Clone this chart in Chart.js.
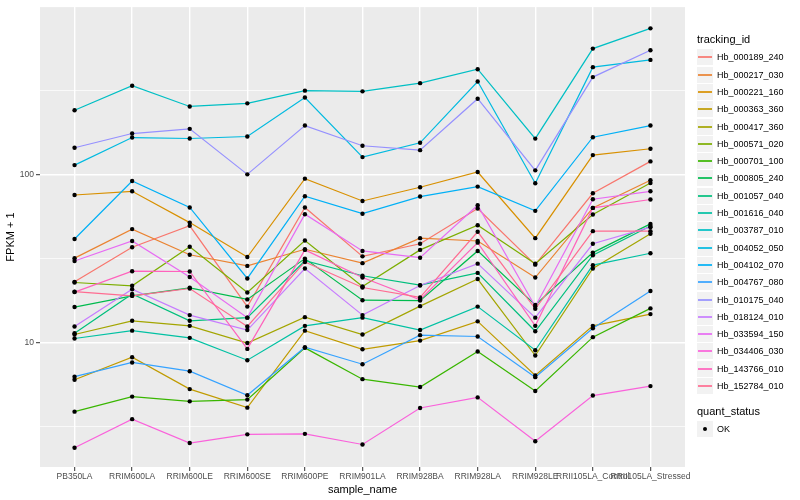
<!DOCTYPE html>
<html>
<head>
<meta charset="utf-8">
<script src="https://cdn.jsdelivr.net/npm/chart.js@4.4.1/dist/chart.umd.min.js"></script>
<style>
  body { margin: 0; background: #fff; font-family: "Liberation Sans", Arial, sans-serif; }
  #wrap { position: relative; width: 800px; height: 500px; }
  #legend div { position: absolute; white-space: nowrap; }
  .ltitle { font-size: 11px; color: #000; }
  .lkey { width: 16px; height: 16px; background: #F2F2F2; }
  .lline { height: 2px; }
  .ltext { font-size: 9px; color: #000; }
</style>
</head>
<body>
<div id="wrap">
  <canvas id="chart" width="800" height="500"></canvas>
  <div id="legend"></div>
</div>
<script>
const samples = ['PB350LA', 'RRIM600LA', 'RRIM600LE', 'RRIM600SE', 'RRIM600PE', 'RRIM901LA',
    'RRIM928BA', 'RRIM928LA', 'RRIM928LE', 'RRII105LA_Control', 'RRII105LA_Stressed'];

const trackingIds = ['Hb_000189_240', 'Hb_000217_030', 'Hb_000221_160', 'Hb_000363_360', 'Hb_000417_360',
    'Hb_000571_020', 'Hb_000701_100', 'Hb_000805_240', 'Hb_001057_040', 'Hb_001616_040',
    'Hb_003787_010', 'Hb_004052_050', 'Hb_004102_070', 'Hb_004767_080', 'Hb_010175_040',
    'Hb_018124_010', 'Hb_033594_150', 'Hb_034406_030', 'Hb_143766_010', 'Hb_152784_010'];

const hueColors = ['#F8766D', '#EA8331', '#D89000', '#C09B00', '#A3A500', '#7CAE00', '#39B600', '#00BB4E',
    '#00BF7D', '#00C1A3', '#00BFC4', '#00BAE0', '#00B0F6', '#35A2FF', '#9590FF', '#C77CFF',
    '#E76BF3', '#FA62DB', '#FF62BC', '#FF6C91'];

// FPKM + 1, one value per sample
const hb_000189_240 = [23.0, 36.9, 49.5, 16.4, 63.6, 32.6, 38.7, 62.7, 29.1, 77.2, 119.4];
const hb_000217_030 = [31.8, 47.3, 33.3, 28.6, 35.9, 29.7, 41.8, 40.2, 24.4, 63.2, 92.2];
const hb_000221_160 = [75.4, 79.3, 51.7, 32.3, 94.3, 69.5, 83.8, 103.2, 41.8, 130.1, 141.9];
const hb_000363_360 = [6.03, 8.21, 5.31, 4.12, 11.8, 9.15, 10.3, 13.4, 6.40, 12.6, 14.8];
const hb_000417_360 = [11.2, 13.5, 12.6, 9.96, 14.2, 11.2, 16.5, 23.9, 8.40, 27.6, 44.4];
const hb_000571_020 = [22.8, 21.8, 37.2, 19.9, 40.5, 21.6, 35.6, 49.9, 29.5, 57.8, 88.8];
const hb_000701_100 = [3.90, 4.79, 4.49, 4.60, 9.33, 6.08, 5.46, 8.87, 5.17, 10.8, 16.0];
const hb_000805_240 = [16.3, 19.0, 21.2, 18.1, 31.6, 17.9, 17.8, 35.1, 16.8, 34.3, 50.8];
const hb_001057_040 = [11.4, 19.5, 13.5, 14.1, 30.7, 25.0, 22.0, 26.0, 11.7, 33.1, 49.3];
const hb_001616_040 = [10.6, 11.8, 10.7, 7.88, 12.6, 14.1, 11.9, 16.4, 9.03, 28.9, 34.0];
const hb_003787_010 = [240, 336, 253, 264, 314, 311, 348, 421, 163, 558, 736];
const hb_004052_050 = [113.5, 165.4, 163.2, 167.7, 286, 126.6, 153.9, 356, 88.5, 433, 478];
const hb_004102_070 = [41.3, 91.3, 63.6, 24.1, 74.1, 58.4, 73.8, 84.6, 60.7, 166.1, 194.8];
const hb_004767_080 = [6.29, 7.64, 6.78, 4.88, 9.41, 7.46, 11.1, 10.9, 6.25, 12.2, 20.3];
const hb_010175_040 = [143.8, 174.7, 186.3, 100.0, 194.8, 147.8, 139.2, 281.3, 105.6, 378, 546];
const hb_018124_010 = [12.5, 20.8, 14.6, 11.9, 27.6, 14.6, 21.9, 29.5, 14.1, 38.7, 48.6];
const hb_033594_150 = [30.6, 40.2, 24.6, 14.1, 58.0, 35.1, 32.0, 65.6, 16.4, 71.2, 79.3];
const hb_034406_030 = [2.38, 3.52, 2.54, 2.86, 2.88, 2.49, 4.10, 4.74, 2.60, 4.86, 5.53];
const hb_143766_010 = [20.0, 26.6, 26.5, 9.20, 35.6, 24.4, 18.0, 39.3, 12.6, 63.2, 70.9];
const hb_152784_010 = [20.1, 19.0, 21.0, 12.5, 30.2, 21.3, 18.6, 45.6, 15.9, 46.0, 46.0];

const yMajorTicks = [10, 100];
const yMinorTicks = [3.162, 31.62, 316.2];
const quantStatus = ['OK'];

const seriesValues = [hb_000189_240, hb_000217_030, hb_000221_160, hb_000363_360, hb_000417_360,
    hb_000571_020, hb_000701_100, hb_000805_240, hb_001057_040, hb_001616_040,
    hb_003787_010, hb_004052_050, hb_004102_070, hb_004767_080, hb_010175_040,
    hb_018124_010, hb_033594_150, hb_034406_030, hb_143766_010, hb_152784_010];

const fontFamily = '"Liberation Sans", Arial, sans-serif';

const lineSets = seriesValues.map(function (vals, i) {
    return {
        label: trackingIds[i],
        data: vals.map(function (v, j) { return { x: j, y: v }; }),
        borderColor: hueColors[i],
        borderWidth: 1.2,
        pointRadius: 0,
        fill: false,
        tension: 0,
        order: trackingIds.length - i
    };
});

const pointSet = {
    label: quantStatus[0],
    data: seriesValues.flatMap(function (vals) {
        return vals.map(function (v, j) { return { x: j, y: v }; });
    }),
    showLine: false,
    pointRadius: 2.2,
    pointBackgroundColor: '#000',
    pointBorderWidth: 0,
    order: -1
};

const panelBg = {
    id: 'panelBg',
    beforeDraw: function (chart) {
        const a = chart.chartArea;
        const ctx = chart.ctx;
        ctx.save();
        ctx.fillStyle = '#EBEBEB';
        ctx.fillRect(a.left, a.top, a.right - a.left, a.bottom - a.top);
        ctx.restore();
    }
};

function isMajor(ctx) {
    return ctx.tick && yMajorTicks.indexOf(ctx.tick.value) >= 0;
}

new Chart(document.getElementById('chart'), {
    type: 'line',
    data: { datasets: lineSets.concat([pointSet]) },
    plugins: [panelBg],
    options: {
        responsive: false,
        animation: false,
        layout: { padding: { top: 5, right: 115, left: 0, bottom: 0 } },
        plugins: {
            legend: { display: false },
            tooltip: { enabled: false }
        },
        scales: {
            x: {
                type: 'linear',
                min: -0.6,
                max: 10.6,
                afterBuildTicks: function (scale) {
                    scale.ticks = samples.map(function (s, j) { return { value: j }; });
                },
                afterFit: function (scale) { scale.height = 33; },
                ticks: {
                    autoSkip: false,
                    maxRotation: 0,
                    minRotation: 0,
                    padding: 1,
                    color: '#4D4D4D',
                    font: { size: 8.5, family: fontFamily },
                    callback: function (value) { return samples[value]; }
                },
                grid: { color: '#fff', lineWidth: 1.4, tickColor: '#333', tickLength: 4, tickWidth: 1 },
                border: { display: false },
                title: {
                    display: true,
                    text: 'sample_name',
                    color: '#000',
                    font: { size: 11, family: fontFamily },
                    padding: { top: 1, bottom: 3 }
                }
            },
            y: {
                type: 'logarithmic',
                min: 1.83,
                max: 984,
                afterBuildTicks: function (scale) {
                    scale.ticks = yMinorTicks.concat(yMajorTicks)
                        .sort(function (a, b) { return a - b; })
                        .map(function (v) { return { value: v }; });
                },
                afterFit: function (scale) { scale.width = 40; },
                ticks: {
                    autoSkip: false,
                    padding: 2,
                    color: '#4D4D4D',
                    font: { size: 8.5, family: fontFamily },
                    callback: function (value) {
                        return yMajorTicks.indexOf(value) >= 0 ? String(value) : '';
                    }
                },
                grid: {
                    color: '#fff',
                    lineWidth: function (ctx) { return isMajor(ctx) ? 1.4 : 0.7; },
                    tickColor: function (ctx) { return isMajor(ctx) ? '#333' : 'rgba(0,0,0,0)'; },
                    tickLength: 4,
                    tickWidth: 1
                },
                border: { display: false },
                title: {
                    display: true,
                    text: 'FPKM + 1',
                    color: '#000',
                    font: { size: 11, family: fontFamily },
                    padding: { top: 4, bottom: 2 }
                }
            }
        }
    }
});

// ggplot-style legend on the right
const legend = document.getElementById('legend');
function addDiv(cls, left, top, html) {
    const d = document.createElement('div');
    d.className = cls;
    d.style.left = left + 'px';
    d.style.top = top + 'px';
    if (html) d.innerHTML = html;
    legend.appendChild(d);
    return d;
}

addDiv('ltitle', 697, 33, 'tracking_id');
trackingIds.forEach(function (id, i) {
    const top = Math.round(49.3 + i * 17.3);
    addDiv('lkey', 697, top);
    const ln = addDiv('lline', 698, top + 7);
    ln.style.width = '14px';
    ln.style.background = hueColors[i];
    ln.style.opacity = '0.85';
    addDiv('ltext', 717, top + 2.5, id);
});

addDiv('ltitle', 697, 405, 'quant_status');
addDiv('lkey', 697, 421);
const dot = addDiv('ldot', 703, 427);
dot.style.width = '4px';
dot.style.height = '4px';
dot.style.borderRadius = '50%';
dot.style.background = '#000';
addDiv('ltext', 717, 424, quantStatus[0]);
</script>
</body>
</html>
